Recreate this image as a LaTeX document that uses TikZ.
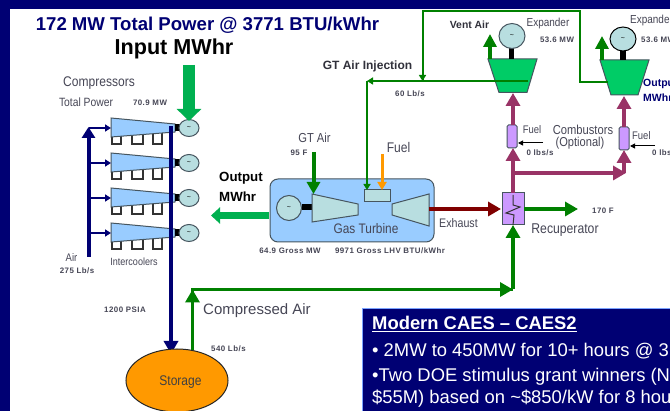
\documentclass[tikz,border=0pt]{standalone}
\usepackage{fontspec}
\setmainfont{Liberation Sans}
\newfontfamily\narrowfont[FakeStretch=0.86]{Liberation Sans}
\newfontfamily\valfont[LetterSpace=6]{Liberation Sans}
\usetikzlibrary{arrows.meta,shapes.geometric}
\definecolor{frameblue}{RGB}{0,0,115}
\definecolor{boxblue}{RGB}{153,204,255}
\definecolor{genfill}{RGB}{184,222,224}
\definecolor{darkgreen}{RGB}{0,128,0}
\definecolor{brightgreen}{RGB}{0,176,80}
\definecolor{expgreen}{RGB}{0,204,102}
\definecolor{plum}{RGB}{153,51,102}
\definecolor{lilac}{RGB}{204,153,255}
\definecolor{storageorange}{RGB}{255,153,0}
\definecolor{labtext}{RGB}{70,70,85}
\definecolor{edgegray}{RGB}{70,85,95}
\tikzset{
    lab/.style={font=\narrowfont\fontsize{#1}{#1}\selectfont, text=labtext, inner sep=0pt},
    val/.style={font=\valfont\bfseries\fontsize{7.9}{7.9}\selectfont, text=labtext, inner sep=0pt},
    head/.style={font=\bfseries\fontsize{#1}{#1}\selectfont, inner sep=0pt},
    infotext/.style={font=\fontsize{18.4}{18.4}\selectfont, text=white, inner sep=0pt, anchor=west},
    gen/.style={ellipse, draw=edgegray, fill=genfill, line width=1pt, inner sep=0pt, font=\fontsize{7}{7}\selectfont},
    comp/.style={draw=edgegray, fill=boxblue, line width=1pt},
    turb/.style={draw=edgegray, fill=genfill, line width=1pt},
    expd/.style={draw=edgegray, fill=expgreen, line width=1pt},
    thickflow/.style={line width=3.6pt, -{Triangle[length=13pt,width=14pt]}},
    burner/.style={rectangle, rounded corners=1.5pt, draw=edgegray, fill=lilac, line width=1pt, minimum width=10pt, minimum height=23pt, inner sep=0pt}
}
\begin{document}
\begin{tikzpicture}[x=1pt,y=-1pt]
    \useasboundingbox (0,0) rectangle (670,411);
    \clip (0,0) rectangle (670,411);

    % Slide frame
    \fill[frameblue] (0,0) rectangle (670,411);
    \fill[white] (10,9) rectangle (670,411);

    % Headings
    \node[head=18.6, text=frameblue] (title) at (207.5,25) {172 MW Total Power @ 3771 BTU/kWhr};
    \node[head=21.6] (inputlab) at (174,49) {Input MWhr};

    % Ports used by the connectors
    \coordinate (airTop) at (88.5,127);
    \coordinate (airEnd) at (88.5,257);
    \coordinate (hpTop) at (171,126);
    \coordinate (hpEnd) at (171,354);
    \coordinate (inTop) at (189,65);
    \coordinate (inEnd) at (189,121);
    \coordinate (caStart) at (192.5,350);
    \coordinate (caCorner) at (192.5,289.5);
    \coordinate (caTurn) at (513,289.5);
    \coordinate (caEnd) at (513,225);
    \coordinate (gtTop) at (422.5,11);
    \coordinate (gtJoin) at (422.5,81);
    \coordinate (injStart) at (528,81);
    \coordinate (injCorner) at (367,81);
    \coordinate (injEnd) at (367,190);
    \coordinate (topCorner) at (580,11);
    \coordinate (secCorner) at (580,82);
    \coordinate (secEnd) at (608,82);

    % Compressor train
    \foreach \y/\g in {128/a,163/b,198/c,233/d} {
        \draw[line width=1.2pt, draw=black!80] (112,\y+6) -- (112,\y+16) -- (121,\y+16) -- (121,\y+6);
        \draw[line width=1.2pt, draw=black!80] (132,\y+6) -- (132,\y+16) -- (143,\y+16) -- (143,\y+6);
        \draw[line width=1.2pt, draw=black!80] (153,\y+4) -- (153,\y+16) -- (162,\y+16) -- (162,\y+4);
        \draw[comp] (111,\y-10) -- (175,\y-4) -- (175,\y+4) -- (111,\y+9) -- cycle;
        \fill[black] (175,\y-4) rectangle (180,\y+3);
        \node[gen, minimum width=20pt, minimum height=17pt] (gen\g) at (189,\y) {\textasciitilde};
        \coordinate (arr\g) at (88.5,\y);
        \coordinate (cmp\g) at (111,\y);
        \draw[line width=1.6pt, draw=frameblue, -{Triangle[length=6pt,width=7pt]}] (arr\g) -- (cmp\g);
    }
    \draw[line width=4pt, draw=frameblue, -{Triangle[length=11pt,width=13pt]}] (airEnd) -- (airTop);
    \draw[line width=4pt, draw=frameblue, -{Triangle[length=13pt,width=14pt]}] (hpTop) -- (hpEnd);

    % Storage
    \node[ellipse, draw=black!85, fill=storageorange, line width=1pt, minimum width=102pt, minimum height=63pt] (storage) at (177,380.5) {};
    \node[lab=14, text=black!75] (storagelab) at (180.5,382) {Storage};
    \draw[line width=12pt, draw=brightgreen, -{Triangle[length=12pt,width=24pt]}] (inTop) -- (inEnd);

    % Gas turbine
    \node[rectangle, rounded corners=8pt, draw=edgegray, fill=boxblue, line width=1pt, minimum width=164pt, minimum height=63pt, inner sep=0pt] (gtbox) at (352,210.5) {};
    \node[gen, minimum width=25pt, minimum height=25pt] (gtgen) at (289,208) {\textasciitilde};
    \fill[black] (302,204) rectangle (312,210);
    \draw[turb] (312,194) -- (358,204) -- (358,215) -- (312,222) -- cycle;
    \draw[turb] (392,204) -- (429,194) -- (429,226) -- (392,215) -- cycle;
    \node[rectangle, draw=edgegray, fill=genfill, line width=1pt, minimum width=26pt, minimum height=12pt, inner sep=0pt] (combustor) at (377,196) {};
    \node[lab=13.8] (gtlab) at (366,229) {Gas Turbine};

    % Gas turbine air and fuel
    \coordinate (gtAirStart) at (313.5,152);
    \coordinate (gtAirEnd) at (313.5,194);
    \coordinate (fuelStart) at (382,154);
    \coordinate (fuelEnd) at (382,190);
    \draw[line width=4pt, draw=darkgreen, -{Triangle[length=12pt,width=13pt]}] (gtAirStart) -- (gtAirEnd);
    \draw[line width=3pt, draw=storageorange, -{Triangle[length=8pt,width=9pt]}] (fuelStart) -- (fuelEnd);

    % Output arrow
    \coordinate (outStart) at (269,215.5);
    \coordinate (outEnd) at (211,215.5);
    \draw[line width=7pt, draw=brightgreen, -{Triangle[length=9pt,width=16pt]}] (outStart) -- (outEnd);

    % Expanders
    \draw[expd] (488,59) -- (537,59) -- (527,92.5) -- (499,92.5) -- cycle;
    \draw[expd] (600,60) -- (649,60) -- (638,95) -- (611,95) -- cycle;
    \fill[black] (509,47) rectangle (514,59);
    \fill[black] (620,50) rectangle (626,60);
    \node[gen, minimum width=26pt, minimum height=25pt] (expgena) at (512,36) {\textasciitilde};
    \node[gen, draw=black, minimum width=26pt, minimum height=24pt] (expgenb) at (623,39) {\textasciitilde};

    % Air lines over the top
    \draw[line width=2pt, draw=darkgreen] (gtJoin) -- (gtTop) -- (topCorner) -- (secCorner) -- (secEnd);
    \draw[line width=2pt, draw=darkgreen, -{Triangle[length=6pt,width=7pt]}] (gtTop) -- (gtJoin);
    \draw[line width=2pt, draw=darkgreen, -{Triangle[length=6pt,width=7pt]}] (injStart) -- (injCorner);
    \draw[line width=2pt, draw=darkgreen, -{Triangle[length=6pt,width=7pt]}] (injCorner) -- (injEnd);

    % Vent arrows
    \coordinate (ventA) at (490,59);
    \coordinate (ventATop) at (490,34);
    \coordinate (ventB) at (602,60);
    \coordinate (ventBTop) at (602,36);
    \draw[line width=4pt, draw=darkgreen, -{Triangle[length=13pt,width=13pt]}] (ventA) -- (ventATop);
    \draw[line width=4pt, draw=darkgreen, -{Triangle[length=13pt,width=13pt]}] (ventB) -- (ventBTop);

    % Recuperator and combustors
    \node[rectangle, draw=edgegray, fill=lilac, line width=1pt, minimum width=22pt, minimum height=32pt, inner sep=0pt] (recup) at (513,209) {};
    \node[burner] (burnA) at (512,136.5) {};
    \node[burner] (burnB) at (624,138.5) {};
    \coordinate (burnAtop) at (513,125);
    \coordinate (expAin) at (513,93);
    \coordinate (burnBtop) at (624,127);
    \coordinate (expBin) at (624,96);
    \coordinate (recupOut) at (513,193);
    \coordinate (burnAin) at (513,148);
    \coordinate (branch) at (513,173);
    \coordinate (branchEnd) at (626,173);
    \coordinate (branchUp) at (624,173);
    \coordinate (burnBin) at (624,150);
    \foreach \from/\to in {burnAtop/expAin,burnBtop/expBin,recupOut/burnAin,branchUp/burnBin,branch/branchEnd} {
        \draw[thickflow, draw=plum, line width=4pt] (\from) -- (\to);
    }
    \draw[line width=1pt, draw=black!80] (513,195) -- (513,205) -- (520,207) -- (506,213) -- (514,215) -- (513,225);

    % Exhaust, recuperator outlet, compressed air
    \coordinate (exhStart) at (429,209);
    \coordinate (exhEnd) at (501,209);
    \coordinate (recOutStart) at (524,209);
    \coordinate (recOutEnd) at (578,209);
    \draw[thickflow, draw=red!50!black] (exhStart) -- (exhEnd);
    \draw[thickflow, draw=darkgreen] (recOutStart) -- (recOutEnd);
    \draw[line width=3.6pt, draw=darkgreen] (caStart) -- (caCorner) -- (caTurn);
    \draw[thickflow, draw=darkgreen] (caStart) -- (caCorner);
    \draw[thickflow, draw=darkgreen] (caCorner) -- (caTurn);
    \draw[thickflow, draw=darkgreen] (caTurn) -- (caEnd);

    % Fuel feeds to the combustors
    \coordinate (feedA) at (543,143);
    \coordinate (feedAend) at (518,143);
    \coordinate (feedB) at (655,146);
    \coordinate (feedBend) at (630,146);
    \draw[line width=1pt, -{Triangle[length=5pt,width=5pt]}] (feedA) -- (feedAend);
    \draw[line width=1pt, -{Triangle[length=5pt,width=5pt]}] (feedB) -- (feedBend);

    % Labels
    \node[lab=14] (complab) at (99,83) {Compressors};
    \node[lab=12] (powerlab) at (86,102) {Total Power};
    \node[val] (powerval) at (150,103) {70.9 MW};
    \node[lab=11] (airlab) at (71.5,258) {Air};
    \node[val] (airval) at (77,271) {275 Lb/s};
    \node[lab=10.5] (coollab) at (134,262) {Intercoolers};
    \node[val] (psival) at (125,310) {1200 PSIA};
    \node[lab=15, font=\fontsize{15}{15}\selectfont] (calab) at (257,311) {Compressed Air};
    \node[val, anchor=west] (caval) at (211,349) {540 Lb/s};
    \node[head=13.3, anchor=west] (outlabA) at (219,178.5) {Output};
    \node[head=13.3, anchor=west] (outlabB) at (219,197) {MWhr};
    \node[lab=13] (gtairlab) at (314.5,138) {GT Air};
    \node[val] (gtairval) at (299,152.5) {95 F};
    \node[lab=14] (fuellab) at (398.5,147) {Fuel};
    \node[val] (grossval) at (290,251) {64.9 Gross MW};
    \node[val] (heatval) at (390,251) {9971 Gross LHV BTU/kWhr};
    \node[head=12, text=labtext!70!black] (injlab) at (367.5,66) {GT Air Injection};
    \node[val] (injval) at (410,94) {60 Lb/s};
    \node[head=10.4, text=labtext!70!black] (ventlab) at (469.5,25) {Vent Air};
    \node[lab=11.6] (explabA) at (548,24) {Expander};
    \node[val] (expvalA) at (557,39.5) {53.6 MW};
    \node[lab=11.6, anchor=west] (explabB) at (630,21) {Expander};
    \node[val, anchor=west] (expvalB) at (641,39.5) {53.6 MW};
    \node[head=10.5, text=frameblue, anchor=west] (outnavyA) at (643,84) {Output};
    \node[head=10.5, text=frameblue, anchor=west] (outnavyB) at (643,98) {MWhr};
    \node[lab=11] (fuelA) at (532,130) {Fuel};
    \node[lab=11, anchor=west] (fuelB) at (632,135.5) {Fuel};
    \node[lab=13] (comblab) at (583,130) {Combustors};
    \node[lab=12.9] (optlab) at (580,143) {(Optional)};
    \node[val] (fuelvalA) at (540,153) {0 lbs/s};
    \node[val, anchor=west] (fuelvalB) at (652,153) {0 lbs/s};
    \node[lab=12.4] (exhlab) at (458.5,223) {Exhaust};
    \node[lab=14.2] (reclab) at (565,230) {Recuperator};
    \node[val] (recval) at (603,211) {170 F};

    % Info panel
    \draw[line width=1pt, draw=boxblue!80!blue, fill=frameblue] (362,308.5) rectangle (680,420);
    \node[infotext, font=\bfseries\fontsize{18.4}{18.4}\selectfont] (infohead) at (372,324) {\underline{Modern CAES -- CAES2}};
    \node[infotext] (infoa) at (372,351) {• 2MW to 450MW for 10+ hours @ 3};
    \node[infotext] (infob) at (372,377) {•Two DOE stimulus grant winners (N};
    \node[infotext] (infoc) at (372,399) {\$55M) based on \textasciitilde\$850/kW for 8 hou};
\end{tikzpicture}
\end{document}
